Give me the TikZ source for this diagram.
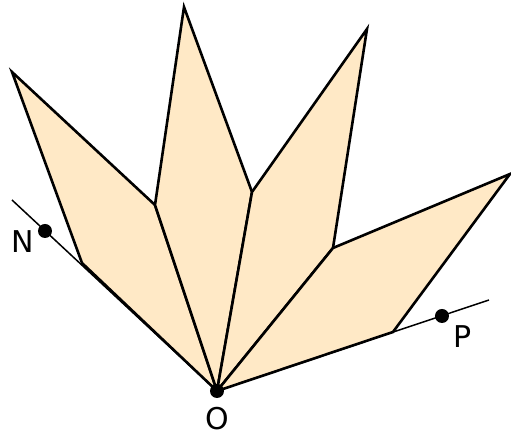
\documentclass[tikz,border=0pt]{standalone}
\usepackage{fontspec}
\setmainfont{DejaVu Sans}
\usepackage{xcolor}
\usepackage{tikz}
\usetikzlibrary{calc}

\definecolor{petalfill}{HTML}{FFE9C6}

\begin{document}
\begin{tikzpicture}[
  x=0.5pt, y=-0.5pt,
  petal/.style={draw=black, fill=petalfill, line width=1.3pt, line join=miter},
  guide/.style={draw=black, line width=0.75pt},
  dot/.style={circle, fill=black, inner sep=0pt, minimum size=7pt},
  ptlabel/.style={font=\fontsize{15}{17}\selectfont, inner sep=0pt},
]
\useasboundingbox (0,0) rectangle (511,438);

% vertices
\coordinate (O)  at (217,391);
\coordinate (A1) at (82,263);
\coordinate (T1) at (12,72);
\coordinate (B1) at (155,205);
\coordinate (T2) at (184,7);
\coordinate (B2) at (252,192);
\coordinate (T3) at (367,29);
\coordinate (B3) at (333,248);
\coordinate (T4) at (510,174);
\coordinate (A4) at (393,332);
\coordinate (endN) at (12,200);
\coordinate (endP) at (489,300);

% the four petals
\draw[petal] (O) -- (A1) -- (T1) -- (B1) -- cycle;
\draw[petal] (O) -- (B1) -- (T2) -- (B2) -- cycle;
\draw[petal] (O) -- (B2) -- (T3) -- (B3) -- cycle;
\draw[petal] (O) -- (B3) -- (T4) -- (A4) -- cycle;

% half-lines through N and P
\draw[guide] (O) -- (endN);
\draw[guide] (O) -- (endP);

% points
\node[dot] (dotO) at (O) {};
\node[dot] (dotN) at (45,231) {};
\node[dot] (dotP) at (442,316) {};
\node[ptlabel] (labN) at (23,242) {N};
\node[ptlabel] (labO) at (217,419) {O};
\node[ptlabel] (labP) at (463,337) {P};

\end{tikzpicture}
\end{document}
